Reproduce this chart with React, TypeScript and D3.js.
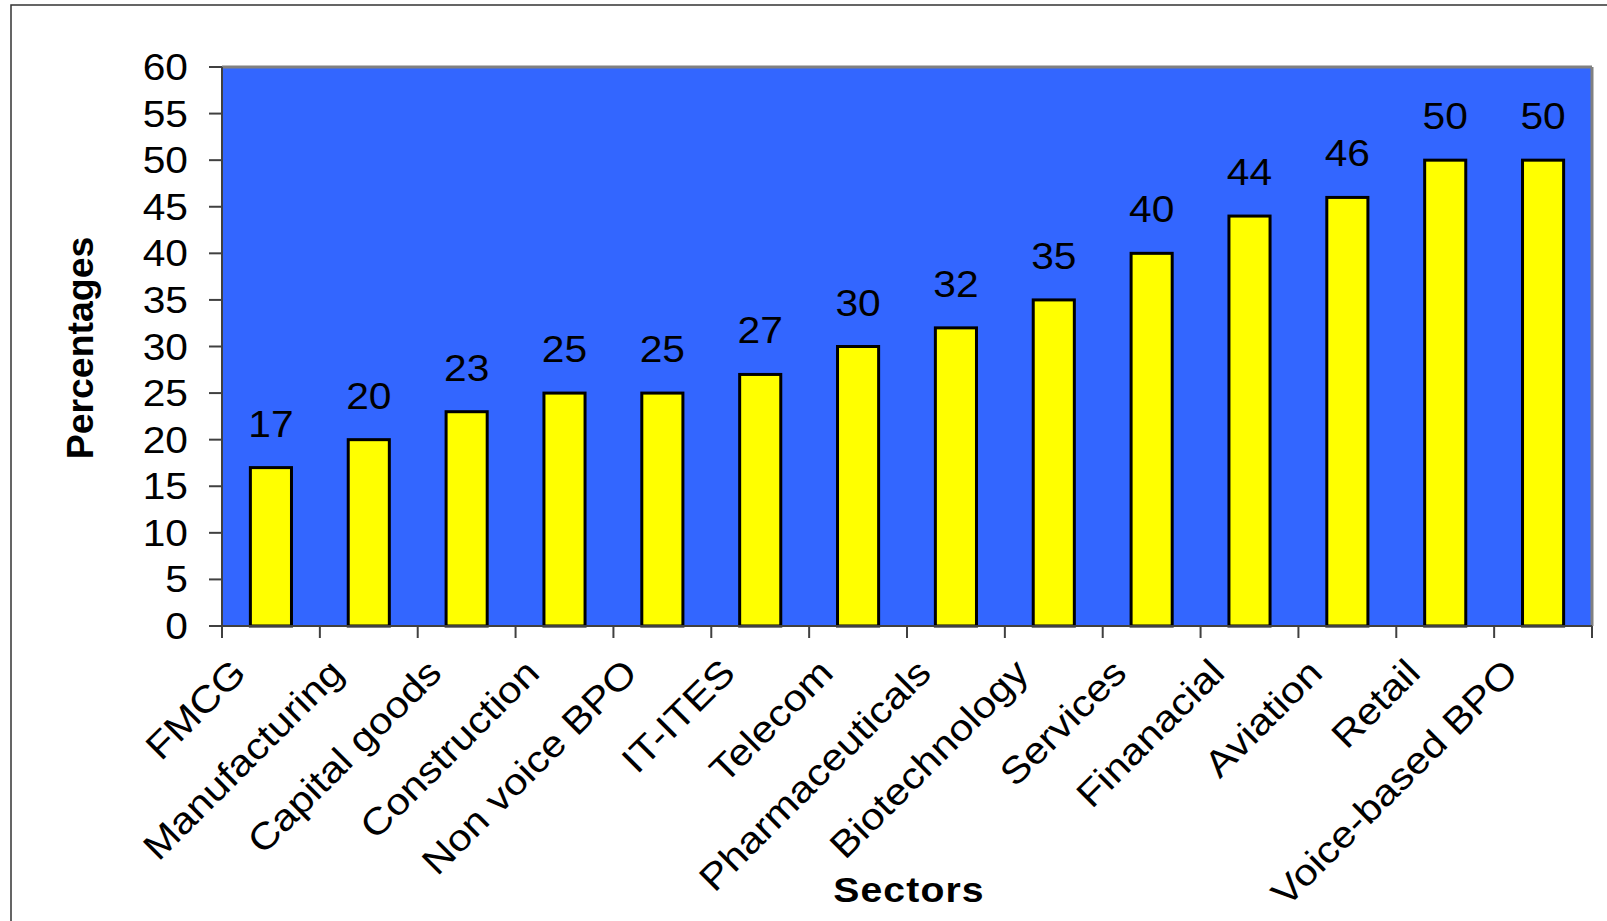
import React from "react";
import * as d3 from "d3";

const categories = [
  "FMCG", "Manufacturing", "Capital goods", "Construction", "Non voice BPO",
  "IT-ITES", "Telecom", "Pharmaceuticals", "Biotechnology", "Services",
  "Finanacial", "Aviation", "Retail", "Voice-based BPO",
];
const values = [17, 20, 23, 25, 25, 27, 30, 32, 35, 40, 44, 46, 50, 50];
const yTicks = [0, 5, 10, 15, 20, 25, 30, 35, 40, 45, 50, 55, 60];
const yLabel = "Percentages";
const xLabel = "Sectors";

const W = 1607, H = 921;
const left = 222, right = 1592, top = 67, bottom = 626;
const FONT = "'Liberation Sans', Arial, sans-serif";
const SX = 1.1;

export default function App() {
  const x = d3.scaleBand<string>().domain(categories).range([left, right]).paddingInner(0).paddingOuter(0);
  const y = d3.scaleLinear().domain([0, 60]).range([bottom, top]);
  const bw = x.bandwidth() * 0.42;
  const boundaries = d3.range(categories.length + 1).map((i) => left + i * x.step());

  return (
    <svg width={W} height={H} style={{ position: "absolute", left: 0, top: 0, background: "#fff" }}>
      <rect x={11} y={5} width={W + 50} height={H + 50} fill="#fff" stroke="#333" strokeWidth={1.5} />
      <rect x={left} y={top} width={right - left} height={bottom - top} fill="#3366FF" />
      <line x1={left} y1={top} x2={right} y2={top} stroke="#808080" strokeWidth={3} />
      <line x1={right} y1={top} x2={right} y2={bottom} stroke="#808080" strokeWidth={3} />
      {categories.map((c, i) => {
        const cx = (x(c) as number) + x.bandwidth() / 2;
        return (
          <g key={c}>
            <rect x={cx - bw / 2} y={y(values[i])} width={bw} height={bottom - y(values[i])}
              fill="#FFFF00" stroke="#000" strokeWidth={3} />
            <text transform={`translate(${cx},${y(values[i]) - 31}) scale(${SX},1)`} textAnchor="middle"
              fontFamily={FONT} fontSize={37} fill="#000">
              {values[i]}
            </text>
          </g>
        );
      })}
      <line x1={left} y1={top} x2={left} y2={bottom} stroke="#404040" strokeWidth={2} />
      <line x1={left - 13} y1={bottom} x2={right} y2={bottom} stroke="#404040" strokeWidth={2} />
      {yTicks.map((t) => (
        <g key={t}>
          <line x1={left - 13} x2={left} y1={y(t)} y2={y(t)} stroke="#404040" strokeWidth={2} />
          <text transform={`translate(188,${y(t) + 13}) scale(${SX},1)`} textAnchor="end"
            fontFamily={FONT} fontSize={37} fill="#000">
            {t}
          </text>
        </g>
      ))}
      {boundaries.map((b, i) => (
        <line key={i} x1={b} x2={b} y1={bottom} y2={bottom + 12} stroke="#404040" strokeWidth={2} />
      ))}
      {categories.map((c) => {
        const cx = (x(c) as number) + x.bandwidth() / 2 - 23;
        const cy = 675;
        return (
          <text key={c} transform={`translate(${cx},${cy}) rotate(-45) scale(1.13,1)`} textAnchor="end"
            fontFamily={FONT} fontSize={37} fill="#000">
            {c}
          </text>
        );
      })}
      <text transform={`translate(93,348) rotate(-90) scale(1.04,1)`} textAnchor="middle" fontFamily={FONT}
        fontWeight="bold" fontSize={36} fill="#000">
        {yLabel}
      </text>
      <text transform={`translate(909,902) scale(1.12,1)`} textAnchor="middle" fontFamily={FONT}
        fontWeight="bold" fontSize={35} letterSpacing={1} fill="#000">
        {xLabel}
      </text>
    </svg>
  );
}
